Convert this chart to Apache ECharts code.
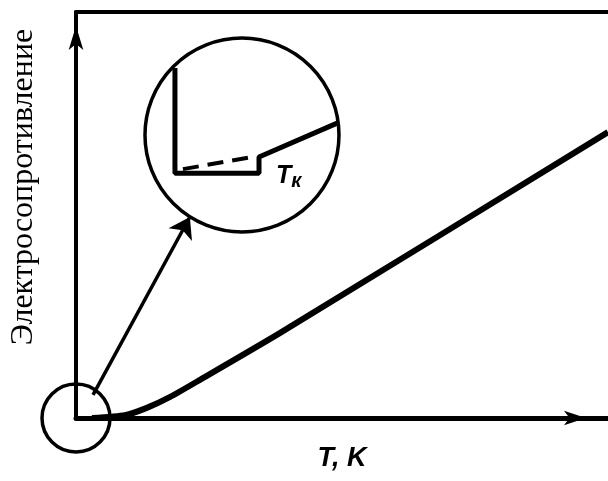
<!DOCTYPE html>
<html>
<head>
<meta charset="utf-8">
<script src="https://cdn.jsdelivr.net/npm/echarts@6/dist/echarts.min.js"></script>
<style>
  html, body { margin: 0; padding: 0; background: #fff; }
  #chart { width: 608px; height: 481px; }
</style>
</head>
<body>
<div id="chart"></div>
<script>
// schematic: resistance vs temperature, superconducting drop at Tk
// units are arbitrary, 0..100 on both axes
var resistanceCurve = [[3, 0], [9.2, 0.7], [13.3, 2.5], [17.7, 5.2], [23.3, 9.4], [38.3, 20.9], [100, 70.4]]
var zoomPointer = [[3.2, 5.7], [21.4, 49.5]]
var originCircle = [[0, 0]]
var zoomCircle = [[31.2, 69.7]]
// inside the magnified circle
var insetSolid = [[18.6, 86.2], [18.6, 60.3], [34.4, 60.3], [34.4, 64.3], [49.2, 72.7]]
var insetDashed = [[20.1, 61.3], [33.1, 64.3]]
var tkLabel = [[40, 59.5]]

var yTitle = 'Электросопротивление'
var xTitle = 'T, K'

var chart = echarts.init(document.getElementById('chart'))

var hollow = { color: 'rgba(0,0,0,0)', borderColor: '#000', borderWidth: 3.5, opacity: 1 }

var option = {
  animation: false,
  grid: { left: 76, right: 0, top: 12, bottom: 63 },
  xAxis: [{
    type: 'value',
    min: 0,
    max: 100,
    name: xTitle,
    nameLocation: 'middle',
    nameGap: 27,
    nameTextStyle: { fontFamily: 'Liberation Sans', fontSize: 27, fontWeight: 'bold', fontStyle: 'italic', color: '#000' },
    axisLine: { lineStyle: { color: '#000', width: 5 }, symbol: ['none', 'arrow'], symbolSize: [11, 22], symbolOffset: [0, -22] },
    axisTick: { show: false },
    axisLabel: { show: false },
    splitLine: { show: false }
  }, {
    type: 'value',
    position: 'top',
    min: 0,
    max: 100,
    axisLine: { onZero: false, lineStyle: { color: '#000', width: 4 } },
    axisTick: { show: false },
    axisLabel: { show: false },
    splitLine: { show: false }
  }],
  yAxis: {
    type: 'value',
    min: 0,
    max: 100,
    axisLine: { lineStyle: { color: '#000', width: 4 }, symbol: ['none', 'arrow'], symbolSize: [11, 24], symbolOffset: [0, -14] },
    axisTick: { show: false },
    axisLabel: { show: false },
    splitLine: { show: false }
  },
  graphic: [{
    type: 'text',
    x: 24,
    y: 187,
    rotation: Math.PI / 2,
    style: {
      text: yTitle,
      fontFamily: 'Liberation Serif',
      fontSize: 32,
      fill: '#000',
      textAlign: 'center',
      textVerticalAlign: 'middle'
    }
  }],
  series: [{
    type: 'line',
    data: resistanceCurve,
    smooth: 0.2,
    symbol: 'none',
    lineStyle: { color: '#000', width: 6 }
  }, {
    type: 'lines',
    coordinateSystem: 'cartesian2d',
    data: [{ coords: zoomPointer }],
    symbol: ['none', 'arrow'],
    symbolSize: [9, 20],
    lineStyle: { color: '#000', width: 3.5, opacity: 1 }
  }, {
    type: 'scatter',
    data: originCircle,
    symbol: 'circle',
    symbolSize: 68,
    itemStyle: hollow
  }, {
    type: 'scatter',
    data: zoomCircle,
    symbol: 'circle',
    symbolSize: 194,
    itemStyle: hollow
  }, {
    type: 'line',
    data: insetSolid,
    symbol: 'none',
    lineStyle: { color: '#000', width: 5 }
  }, {
    type: 'line',
    data: insetDashed,
    symbol: 'none',
    lineStyle: { color: '#000', width: 4, type: [16, 9] }
  }, {
    type: 'scatter',
    data: tkLabel,
    symbolSize: 0,
    itemStyle: { opacity: 1 },
    label: {
      show: true,
      position: 'inside',
      formatter: '{t|T}{k|к}',
      rich: {
        t: { fontFamily: 'Liberation Sans', fontSize: 25, fontWeight: 'bold', fontStyle: 'italic', color: '#000' },
        k: { fontFamily: 'Liberation Sans', fontSize: 20, fontWeight: 'bold', fontStyle: 'italic', color: '#000', padding: [10, 0, 0, 0] }
      }
    }
  }]
}

chart.setOption(option)
</script>
</body>
</html>
